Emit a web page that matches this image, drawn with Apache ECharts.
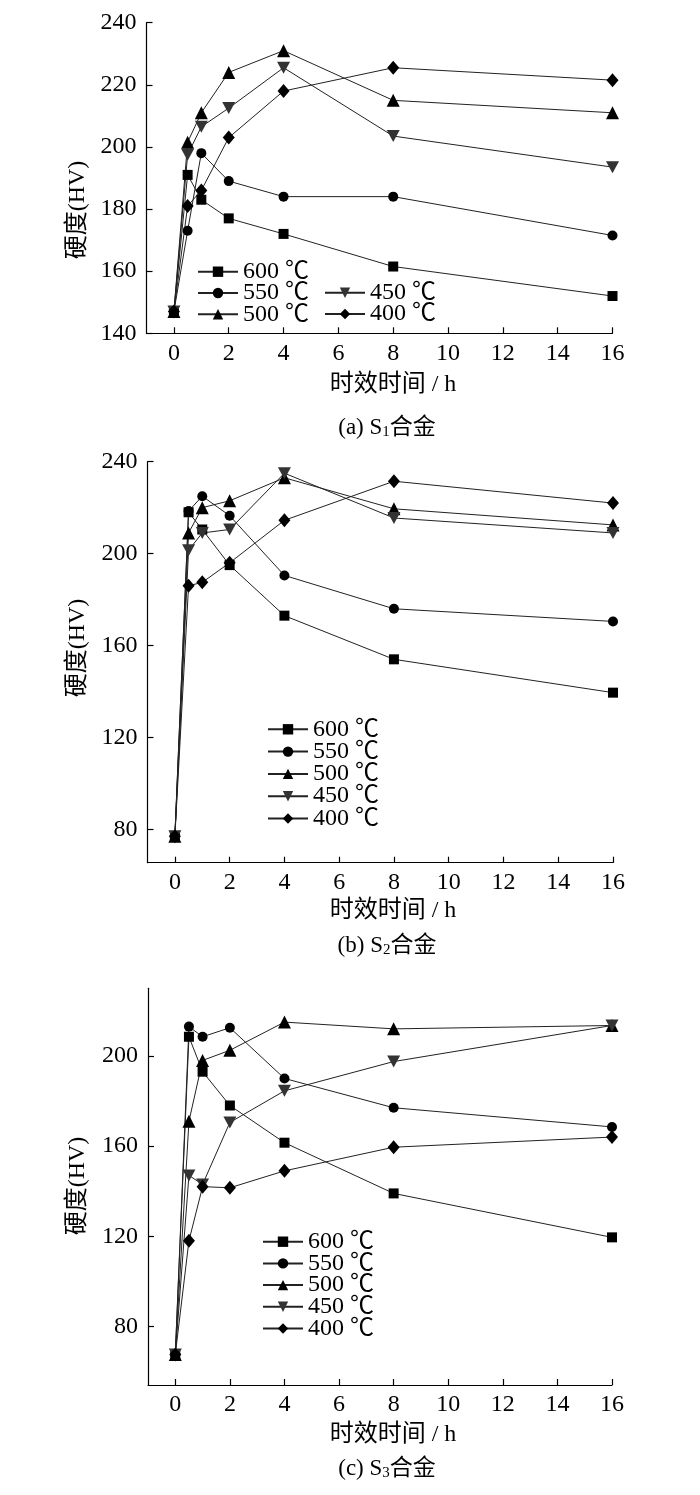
<!DOCTYPE html>
<html>
<head>
<meta charset="utf-8">
<script src="https://cdn.jsdelivr.net/npm/echarts@6/dist/echarts.min.js"></script>
<style>
html,body{margin:0;padding:0;background:#fff;}
#chart{width:700px;height:1495px;}
</style>
</head>
<body>
<div id="chart"></div>
<script>
// ---- data ----
const times = [0, 0.5, 1, 2, 4, 8, 16];
const tempNames = ['600 ℃', '550 ℃', '500 ℃', '450 ℃', '400 ℃'];
const xTicks = [0, 2, 4, 6, 8, 10, 12, 14, 16];
const yTicksA = [140, 160, 180, 200, 220, 240];
const yTicksB = [80, 120, 160, 200, 240];
const yTicksC = [80, 120, 160, 200];

const s1_600 = [147, 191, 183, 177, 172, 161.5, 152];
const s1_550 = [147, 173, 198, 189, 184, 184, 171.5];
const s1_500 = [147, 201.5, 211, 224, 231, 215, 211];
const s1_450 = [147, 197.5, 206.5, 212.5, 225.5, 203.5, 193.5];
const s1_400 = [147, 181, 186, 203, 218, 225.5, 221.5];

const s2_600 = [77, 218, 210.5, 195, 173, 154, 139.5];
const s2_550 = [77, 218.5, 225, 216.5, 190.5, 176, 170.5];
const s2_500 = [77, 209, 220, 223, 233, 219.5, 212.5];
const s2_450 = [77, 201.5, 209, 210.5, 235, 215.5, 209];
const s2_400 = [77, 186, 187.5, 196, 214.5, 231.5, 222];

const s3_600 = [67.5, 208.5, 193, 178, 161.5, 139, 119.5];
const s3_550 = [67.5, 213, 208.5, 212.5, 190, 177, 168.5];
const s3_500 = [67.5, 171, 198, 202.5, 215, 212, 213.5];
const s3_450 = [67.5, 147, 143, 170.5, 184.5, 197.5, 213.5];
const s3_400 = [67.5, 118, 142, 141.5, 149, 159.5, 164];

const panels = [
  [s1_600, s1_550, s1_500, s1_450, s1_400],
  [s2_600, s2_550, s2_500, s2_450, s2_400],
  [s3_600, s3_550, s3_500, s3_450, s3_400]
];

// ---- styles ----
const FONT = "'Liberation Serif', 'Noto Sans CJK SC', serif";
const symbols = [
  { symbol: 'rect', size: 10, color: '#000' },
  { symbol: 'circle', size: 10, color: '#000' },
  { symbol: 'triangle', size: 13, color: '#000' },
  { symbol: 'path://M0,0 L10,0 L5,9 Z', size: [13, 12], color: '#333' },
  { symbol: 'diamond', size: [12, 14], color: '#000' }
];

const grids = [
  { left: 146.5, top: 22.7, width: 466, height: 310.6 },
  { left: 147.5, top: 461.7, width: 465.5, height: 401 },
  { left: 148, top: 988.3, width: 464, height: 396.7 }
];
const yRanges = [[140, 240, yTicksA], [65.5, 240, yTicksB], [54, 230, yTicksC]];

const axisLine = { show: true, onZero: false, lineStyle: { color: '#000', width: 1.2 } };
const tick = (vals) => ({ show: true, inside: true, length: 6, lineStyle: { color: '#000', width: 1.2 }, customValues: vals });

const xAxes = grids.map((g, i) => ({
  type: 'value', gridIndex: i, min: -1, max: 16,
  axisLine: axisLine, axisTick: tick(xTicks),
  axisLabel: { customValues: xTicks, margin: 8, color: '#000', fontSize: 24, fontFamily: FONT },
  splitLine: { show: false }
}));
const yAxes = grids.map((g, i) => ({
  type: 'value', gridIndex: i, min: yRanges[i][0], max: yRanges[i][1],
  axisLine: axisLine, axisTick: tick(yRanges[i][2]),
  axisLabel: { customValues: yRanges[i][2], margin: 10, color: '#000', fontSize: 24, fontFamily: FONT },
  splitLine: { show: false }
}));

const series = [];
panels.forEach((vals, p) => {
  vals.forEach((arr, k) => {
    series.push({
      type: 'line', name: tempNames[k], xAxisIndex: p, yAxisIndex: p,
      data: times.map((t, j) => [t, arr[j]]),
      symbol: symbols[k].symbol, symbolSize: symbols[k].size, showAllSymbol: true,
      itemStyle: { color: symbols[k].color },
      lineStyle: { color: '#222', width: 1 },
      animation: false, z: 2
    });
  });
});

const legendBase = (data, left, top, gap) => ({
  data: data, left: left, top: top, orient: 'vertical',
  itemWidth: 40, itemHeight: 13, itemGap: gap, padding: 0,
  textStyle: { fontSize: 24, fontFamily: FONT, color: '#000', lineHeight: 21.5 },
  selectedMode: false
});
const legends = [
  legendBase(tempNames.slice(0, 3), 197, 259.7, -2.7),
  legendBase(tempNames.slice(3, 5), 324, 280.7, -2.7),
  legendBase(tempNames, 267, 717.3, -1.7),
  legendBase(tempNames, 262, 1229.7, -2.3)
];

const yNameY = [210, 648, 1186];
const xNameY = [385, 911, 1435];
const capY = [428, 946, 1469];
const capLetters = ['a', 'b', 'c'];
const graphics = [];
for (let i = 0; i < 3; i++) {
  graphics.push({
    type: 'text', x: 78, y: yNameY[i], rotation: Math.PI / 2,
    style: { text: '硬度(HV)', font: "24px " + FONT, fill: '#000', textAlign: 'center', textVerticalAlign: 'middle' }
  });
  graphics.push({
    type: 'text', x: 393, y: xNameY[i],
    style: { text: '时效时间 / h', font: "24px " + FONT, fill: '#000', textAlign: 'center', textVerticalAlign: 'middle' }
  });
  graphics.push({
    type: 'text', x: 387, y: capY[i],
    style: {
      text: '{m|(' + capLetters[i] + ') S}{s|' + (i + 1) + '}{m|合金}',
      textAlign: 'center', textVerticalAlign: 'middle',
      rich: {
        m: { fontSize: 23, fontFamily: FONT, fill: '#000', color: '#000', lineHeight: 28, verticalAlign: 'middle' },
        s: { fontSize: 15, fontFamily: FONT, fill: '#000', color: '#000', lineHeight: 28, verticalAlign: 'bottom', padding: [0, 0, 2, 0] }
      }
    }
  });
}

const chart = echarts.init(document.getElementById('chart'));
chart.setOption({
  backgroundColor: '#fff',
  animation: false,
  grid: grids,
  xAxis: xAxes,
  yAxis: yAxes,
  legend: legends,
  series: series,
  graphic: graphics
});
</script>
</body>
</html>
